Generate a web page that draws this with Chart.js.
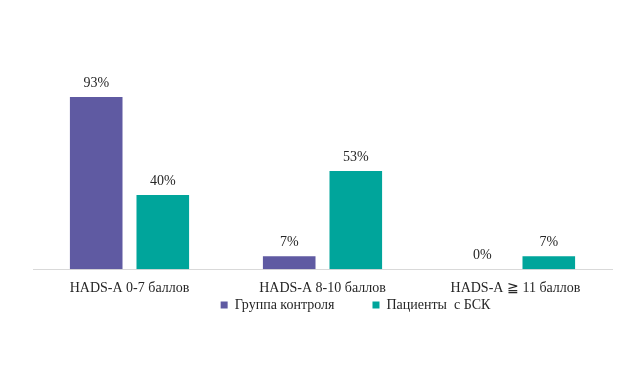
<!DOCTYPE html>
<html>
<head>
<meta charset="utf-8">
<script src="https://cdn.jsdelivr.net/npm/chart.js@4"></script>
<style>
  html, body { margin: 0; padding: 0; background: #fff; }
  #wrap { width: 643px; height: 365px; }
</style>
</head>
<body>
<div id="wrap"><canvas id="chart" width="643" height="365"></canvas></div>
<script>
// chart values
const categories = ["HADS-A 0-7 баллов", "HADS-A 8-10 баллов", "HADS-A \u2267 11 баллов"];
const controlGroup = [93, 7, 0];
const patientsBSK = [40, 53, 7];
const seriesNames = ["Группа контроля", "Пациенты  с БСК"];

const FONT = "'Liberation Serif', 'Times New Roman', serif";

// percent labels above each bar
const barLabels = {
  id: "barLabels",
  afterDatasetsDraw(chart) {
    const ctx = chart.ctx;
    ctx.save();
    ctx.font = "14px " + FONT;
    ctx.fillStyle = "#262626";
    ctx.textAlign = "center";
    ctx.textBaseline = "middle";
    chart.data.datasets.forEach((ds, i) => {
      chart.getDatasetMeta(i).data.forEach((bar, j) => {
        ctx.fillText(ds.data[j] + "%", bar.x, bar.y - 14);
      });
    });
    ctx.restore();
  }
};

// legend sits just under the tick labels, a bit right of centre
const legendPlace = {
  id: "legendPlace",
  afterLayout(chart) {
    const lg = chart.legend;
    lg.top = 260; lg.bottom = 335;
    lg.left += 33; lg.right += 33;
  }
};

new Chart(document.getElementById("chart"), {
  type: "bar",
  data: {
    labels: categories,
    datasets: [
      { label: seriesNames[0], data: controlGroup, backgroundColor: "#5f5aa2" },
      { label: seriesNames[1], data: patientsBSK, backgroundColor: "#00a59b" }
    ]
  },
  options: {
    responsive: false,
    animation: false,
    layout: { padding: { left: 33, right: 31, top: 84, bottom: 37 } },
    datasets: { bar: { categoryPercentage: 0.69, barPercentage: 0.79 } },
    scales: {
      x: {
        grid: { display: false, drawTicks: false },
        border: { color: "#d9d9d9", width: 1 },
        ticks: { color: "#262626", font: { family: FONT, size: 14 }, padding: 11, maxRotation: 0 }
      },
      y: { display: false, min: 0, max: 100 }
    },
    plugins: {
      legend: {
        position: "bottom",
        maxHeight: 20,
        labels: {
          color: "#262626",
          font: { family: FONT, size: 14 },
          boxWidth: 7, boxHeight: 7, padding: 38, useBorderRadius: false
        }
      },
      tooltip: { enabled: false }
    }
  },
  plugins: [barLabels, legendPlace]
});
</script>
</body>
</html>
